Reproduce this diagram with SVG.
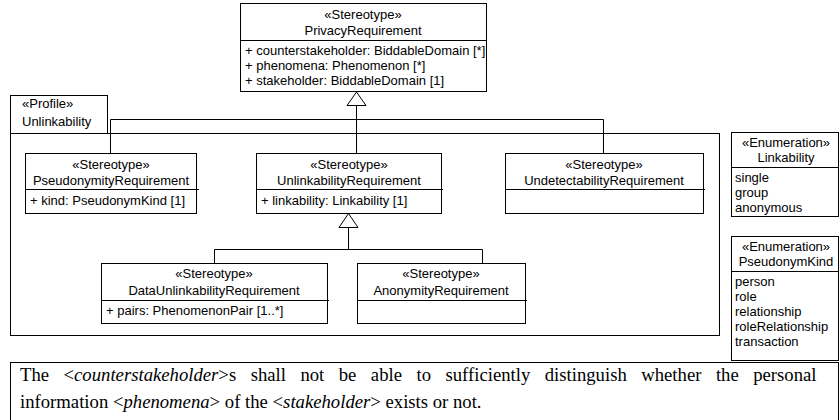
<svg xmlns="http://www.w3.org/2000/svg" width="839" height="420" viewBox="0 0 839 420">
<style>
.box{fill:#fff;stroke:#000;stroke-width:1}
.ln{fill:none;stroke:#000;stroke-width:1}
.t{font-family:"Liberation Sans",Arial,sans-serif;font-size:13px;fill:#000}
.c{text-anchor:middle}
.s{font-family:"Liberation Serif","Times New Roman",serif;font-size:18.7px;fill:#000}
.i{font-style:italic}
</style>
<rect width="839" height="420" fill="#fff"/>
<g id="profile">
<rect class="box" x="10.5" y="95.5" width="97" height="38"/>
<rect class="box" x="10.5" y="133.5" width="709" height="202"/>
<text class="t" x="22" y="108">«Profile»</text>
<text class="t" x="22" y="126">Unlinkability</text>
</g>
<g id="connectors">
<polyline class="ln" points="356.5,105 356.5,119.5"/>
<polyline class="ln" points="110.5,153 110.5,119.5 603.5,119.5 603.5,153"/>
<polyline class="ln" points="356.5,119.5 356.5,153"/>
<polygon class="box" points="356.5,92 347,105.5 366,105.5"/>
<polyline class="ln" points="348.5,227 348.5,249.5"/>
<polyline class="ln" points="214.5,263 214.5,249.5 482.5,249.5 482.5,263"/>
<polygon class="box" points="348.5,213.5 339,227.5 358,227.5"/>
</g>
<g id="PrivacyRequirement">
<rect class="box" x="240.5" y="3.5" width="246" height="88"/>
<line class="ln" x1="240" y1="40.5" x2="487" y2="40.5"/>
<text class="t c" x="363" y="19">«Stereotype»</text>
<text class="t c" x="363" y="35">PrivacyRequirement</text>
<text class="t" x="245" y="55">+ counterstakeholder: BiddableDomain [*]</text>
<text class="t" x="245" y="70">+ phenomena: Phenomenon [*]</text>
<text class="t" x="245" y="85">+ stakeholder: BiddableDomain [1]</text>
</g>
<g id="PseudonymityRequirement">
<rect class="box" x="25.5" y="153.5" width="171" height="60"/>
<line class="ln" x1="25" y1="189.5" x2="199" y2="189.5"/>
<text class="t c" x="111" y="169">«Stereotype»</text>
<text class="t c" x="111" y="185">PseudonymityRequirement</text>
<text class="t" x="30" y="205">+ kind: PseudonymKind [1]</text>
</g>
<g id="UnlinkabilityRequirement">
<rect class="box" x="256.5" y="153.5" width="185" height="60"/>
<line class="ln" x1="256" y1="189.5" x2="443" y2="189.5"/>
<text class="t c" x="349" y="169">«Stereotype»</text>
<text class="t c" x="349" y="185">UnlinkabilityRequirement</text>
<text class="t" x="261" y="205">+ linkability: Linkability [1]</text>
</g>
<g id="UndetectabilityRequirement">
<rect class="box" x="505.5" y="153.5" width="198" height="60"/>
<line class="ln" x1="505" y1="189.5" x2="705" y2="189.5"/>
<text class="t c" x="604" y="169">«Stereotype»</text>
<text class="t c" x="604" y="185">UndetectabilityRequirement</text>
</g>
<g id="DataUnlinkabilityRequirement">
<rect class="box" x="101.5" y="263.5" width="226" height="60"/>
<line class="ln" x1="101" y1="300.5" x2="329" y2="300.5"/>
<text class="t c" x="214" y="278">«Stereotype»</text>
<text class="t c" x="214" y="295">DataUnlinkabilityRequirement</text>
<text class="t" x="106" y="315">+ pairs: PhenomenonPair [1..*]</text>
</g>
<g id="AnonymityRequirement">
<rect class="box" x="357.5" y="263.5" width="168" height="60"/>
<line class="ln" x1="357" y1="300.5" x2="527" y2="300.5"/>
<text class="t c" x="441" y="278">«Stereotype»</text>
<text class="t c" x="441" y="295">AnonymityRequirement</text>
</g>
<g id="Linkability">
<rect class="box" x="731.5" y="132.5" width="107" height="84"/>
<line class="ln" x1="731" y1="167.5" x2="839" y2="167.5"/>
<text class="t c" x="786" y="147">«Enumeration»</text>
<text class="t c" x="786" y="162">Linkability</text>
<text class="t" x="735" y="182">single</text>
<text class="t" x="735" y="197">group</text>
<text class="t" x="735" y="212">anonymous</text>
</g>
<g id="PseudonymKind">
<rect class="box" x="731.5" y="236.5" width="107" height="124"/>
<line class="ln" x1="731" y1="271.5" x2="839" y2="271.5"/>
<text class="t c" x="786" y="251">«Enumeration»</text>
<text class="t c" x="786" y="266">PseudonymKind</text>
<text class="t" x="735" y="286">person</text>
<text class="t" x="735" y="301">role</text>
<text class="t" x="735" y="316">relationship</text>
<text class="t" x="735" y="331">roleRelationship</text>
<text class="t" x="735" y="346">transaction</text>
</g>
<g id="textbox">
<rect class="box" x="10.5" y="362.5" width="828" height="58"/>
<text class="s" x="20" y="381" word-spacing="9.8">The &lt;<tspan class="i">counterstakeholder</tspan>&gt;s shall not be able to sufficiently distinguish whether the personal</text>
<text class="s" x="20" y="408">information &lt;<tspan class="i">phenomena</tspan>&gt; of the &lt;<tspan class="i">stakeholder</tspan>&gt; exists or not.</text>
</g>
</svg>
